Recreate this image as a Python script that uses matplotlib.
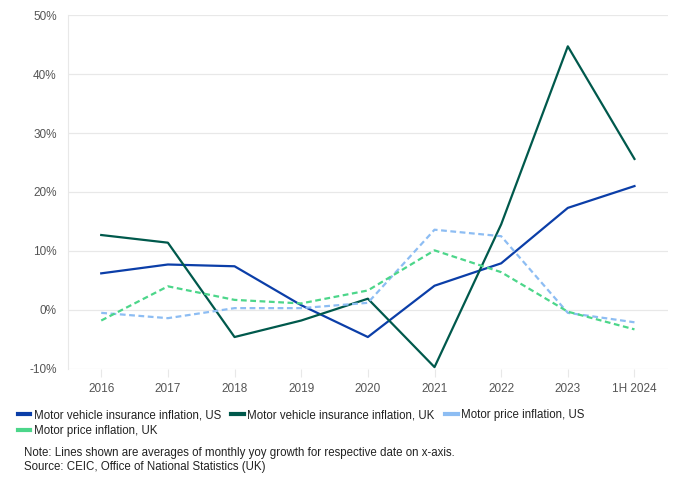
import matplotlib
matplotlib.use("Agg")
import matplotlib.pyplot as plt
from matplotlib.lines import Line2D
from matplotlib import font_manager as fm
from matplotlib.ticker import FuncFormatter, MultipleLocator

categories = ["2016", "2017", "2018", "2019", "2020", "2021", "2022", "2023", "1H 2024"]
us_insurance = [6.2, 7.7, 7.4, 0.8, -4.6, 4.1, 7.9, 17.3, 21.0]
uk_insurance = [12.7, 11.4, -4.6, -1.8, 1.9, -9.7, 14.5, 44.7, 25.6]
us_price = [-0.5, -1.4, 0.3, 0.3, 1.2, 13.6, 12.5, -0.5, -2.1]
uk_price = [-1.8, 4.0, 1.7, 1.1, 3.3, 10.1, 6.4, -0.3, -3.3]

labels = ["Motor vehicle insurance inflation, US",
          "Motor vehicle insurance inflation, UK",
          "Motor price inflation, US",
          "Motor price inflation, UK"]
colors = ["#0b3ea8", "#00594c", "#8dbdf3", "#4cd68a"]

names = {f.name for f in fm.fontManager.ttflist}
family = "Liberation Sans Narrow" if "Liberation Sans Narrow" in names else "Liberation Sans"
plt.rcParams["font.family"] = [family, "DejaVu Sans"]

fig = plt.figure(figsize=(7, 4.86), dpi=100)
ax = fig.add_axes([0.097, 0.241, 0.857, 0.728])

x = list(range(len(categories)))
series = [us_insurance, uk_insurance, us_price, uk_price]
styles = ["-", "-", (0, (2.6, 1.6)), (0, (2.6, 1.6))]
for vals, c, ls in zip(series, colors, styles):
    ax.plot(x, vals, color=c, lw=1.6, linestyle=ls, zorder=3)

ax.set_xlim(-0.5, len(categories) - 0.5)
ax.set_ylim(-10, 50)
ax.yaxis.set_major_locator(MultipleLocator(10))
ax.yaxis.set_major_formatter(FuncFormatter(lambda v, p: f"{v:.0f}%"))
ax.set_xticks(x)
ax.set_xticklabels(categories)
ax.grid(axis="y", color="#e8e8e8", lw=0.9)
ax.set_axisbelow(True)
for s in ["top", "right", "bottom"]:
    ax.spines[s].set_visible(False)
ax.spines["left"].set_color("#e8e8e8")
ax.tick_params(axis="y", length=0, pad=8, labelsize=8.5, labelcolor="#555555")
ax.tick_params(axis="x", length=6, color="#e8e8e8", pad=4, labelsize=8.5, labelcolor="#555555")

handles = [Line2D([0], [0], color=c, lw=3) for c in colors]
order = [0, 3, 1, 2]  # legend fills column-wise; this gives row-wise reading order
fig.legend([handles[i] for i in order], [labels[i] for i in order],
           loc="upper left", bbox_to_anchor=(0.025, 0.158),
           ncol=3, frameon=False, fontsize=8.3, handlelength=1.1, handletextpad=0.3,
           columnspacing=0.9, labelspacing=0.3, borderaxespad=0, borderpad=0,
           labelcolor="#222222")

fig.text(0.034, 0.068, "Note: Lines shown are averages of monthly yoy growth for respective date on x-axis.",
         fontsize=8.3, color="#222222", va="center")
fig.text(0.034, 0.039, "Source: CEIC, Office of National Statistics (UK)",
         fontsize=8.3, color="#222222", va="center")

fig.savefig("out.png", dpi=100)
